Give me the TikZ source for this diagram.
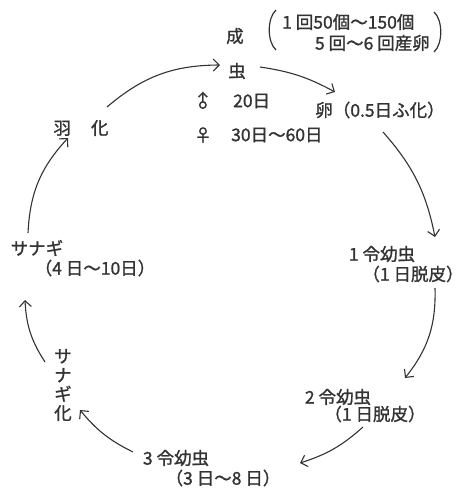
\documentclass[tikz,border=0pt]{standalone}
\usepackage{fontspec}
\setmainfont{Noto Sans CJK JP}[FakeBold=1.2]
\usetikzlibrary{arrows.meta}
\definecolor{ink}{HTML}{333333}
\begin{document}
\begin{tikzpicture}[x=1pt,y=1pt,
  lbl/.style={text=ink, font=\fontsize{17.5}{19}\selectfont, inner sep=0pt},
  arr/.style={draw=ink, line width=1.1pt, -{Straight Barb[length=6pt,width=12pt]}},
  paren/.style={draw=ink, line width=1.2pt}]
\useasboundingbox[fill=white] (0,0) rectangle (463,-493);
\node[lbl] (sei) at (235,-36) {成};
\node[lbl] (mushi) at (237,-71) {虫};
\node[lbl, anchor=west] (note1) at (282,-22) {1 回50個～150個};
\node[lbl, anchor=east] (note2) at (430,-43) {5 回～6 回産卵};
\draw[paren] (276,-10) .. controls (267,-18) and (267,-42) .. (276,-50);
\draw[paren] (434,-12) .. controls (443,-20) and (443,-44) .. (434,-52);
\node[lbl, rotate=45] (male) at (203,-101) {♂};
\node[lbl, anchor=west] (maled) at (233,-101) {20日};
\node[lbl] (female) at (203,-135) {♀};
\node[lbl, anchor=west] (femaled) at (231,-135) {30日～60日};
\node[lbl] (tamago) at (380,-110) {卵（0.5日ふ化）};
\node[lbl] (uka) at (81,-128) {羽\hspace{20pt}化};
\node[lbl] (y1) at (382,-254) {1 令幼虫};
\node[lbl] (y1d) at (413,-274) {（1 日脱皮）};
\node[lbl] (y2) at (338,-397) {2 令幼虫};
\node[lbl] (y2d) at (375,-414) {（1 日脱皮）};
\node[lbl] (y3) at (176,-458) {3 令幼虫};
\node[lbl] (y3d) at (223,-478) {（3 日～8 日）};
\node[lbl, align=center] (sk) at (63,-385) {サ\\ナ\\ギ\\化};
\node[lbl] (sng) at (37,-248) {サナギ};
\node[lbl] (sngd) at (95,-268) {（4 日～10日）};
\draw[arr] ([shift={(26,21)}]uka.center) to[bend left=20] ([shift={(-17,6)}]mushi.center);
\draw[arr] ([shift={(23,4)}]mushi.center) to[bend left=10] ([shift={(-45,18)}]tamago.center);
\draw[arr] ([shift={(3,-22)}]tamago.center) to[bend left=15] ([shift={(53,17)}]y1.center);
\draw[arr] ([shift={(22,-14)}]y1d.center) to[bend left=20] ([shift={(67,19)}]y2.center);
\draw[arr] ([shift={(-12,-13)}]y2d.center) to[bend left=12] ([shift={(77,15)}]y3d.center);
\draw[arr] ([shift={(-43,6)}]y3.center) to[bend left=12] ([shift={(17,-25)}]sk.center);
\draw[arr] ([shift={(-18,23)}]sk.center) to[bend left=15] ([shift={(-12,-52)}]sng.center);
\draw[arr] ([shift={(-9,15)}]sng.center) to[bend left=20] ([shift={(-13,-10)}]uka.center);
\end{tikzpicture}
\end{document}
